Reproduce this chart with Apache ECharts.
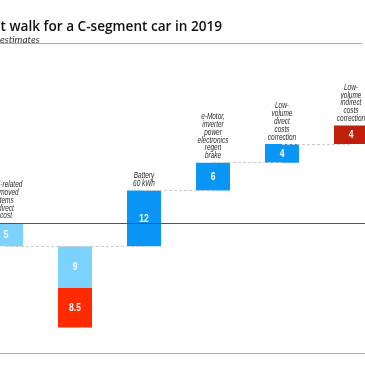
<!DOCTYPE html>
<html><head><meta charset="utf-8">
<script src="https://cdn.jsdelivr.net/npm/echarts@6/dist/echarts.min.js"></script>
<style>html,body{margin:0;padding:0;background:#fff}#c{width:365px;height:365px}</style>
</head><body><div id="c"></div>
<script>
const titleText = 'Cost walk for a C-segment car in 2019';
const subtitleText = 'estimates';
const categories = ['ICE removed items', 'ICE removed detail', 'Battery', 'e-Motor', 'Low-volume direct', 'Low-volume indirect'];
const stepCategory = [0, 1, 1, 2, 3, 4, 5];
const stepStart = [0, -5, -14, -5, 7, 13, 17];
const stepValue = [-5, -9, -8.5, 12, 6, 4, 4];
const stepColor = ['#7BD3FD', '#7BD3FD', '#FF2A00', '#0A96F6', '#0A96F6', '#0A96F6', '#C01F0A'];
const stepNote = ['ICE-related\nremoved\nitems\ndirect\ncost', '', '', 'Battery\n60 kWh',
  'e-Motor,\ninverter\npower\nelectronics\nregen\nbrake', 'Low-\nvolume\ndirect\ncosts\ncorrection',
  'Low-\nvolume\nindirect\ncosts\ncorrection'];
const connectorFrom = [0, 2, 3, 4];
const connectorTo = [2, 3, 4, 5];
const connectorLevel = [-5, 7, 13, 17];

const chart = echarts.init(document.getElementById('c'), null, {renderer: 'canvas'});
const stepData = stepCategory.map((c, i) => [c, stepStart[i], stepStart[i] + stepValue[i], i]);

chart.setOption({
  animation: false,
  grid: {left: 0, right: 0, top: 93, bottom: 12},
  xAxis: {type: 'value', min: -6 / 69, max: 359 / 69, axisLine: {show: true, onZero: false, lineStyle: {color: '#aaa', width: 1}},
    axisTick: {show: false}, axisLabel: {show: false}, splitLine: {show: false}},
  yAxis: {type: 'value', min: -28, max: 28, show: false, splitLine: {show: false}},
  graphic: [
    {type: 'text', x: 222, y: 20, style: {text: titleText, align: 'right', verticalAlign: 'alphabetic',
      font: "600 13.6px 'Open Sans', sans-serif", fill: '#111'}},
    {type: 'text', x: 0, y: 35, style: {text: subtitleText, align: 'left', verticalAlign: 'alphabetic',
      font: "italic 10px Lato, sans-serif", fill: '#333'}},
    {type: 'line', shape: {x1: 0, y1: 43.5, x2: 362, y2: 43.5}, style: {stroke: '#aaa', lineWidth: 1}}
  ],
  series: [
    {
      type: 'line', data: [], z: 1,
      markLine: {
        silent: true, symbol: 'none', label: {show: false},
        data: [
          {yAxis: 0, lineStyle: {type: 'solid', color: '#555', width: 1.2}},
          ...connectorFrom.map((f, i) => [
            {coord: [f, connectorLevel[i]], lineStyle: {type: [3, 2], color: '#ccc', width: 1}},
            {coord: [connectorTo[i], connectorLevel[i]]}
          ])
        ]
      }
    },
    {
      type: 'custom', z: 3, data: stepData,
      renderItem: function (params, api) {
        const cat = api.value(0), s = api.value(1), e = api.value(2), i = api.value(3);
        const p1 = api.coord([cat, s]), p2 = api.coord([cat, e]);
        const bw = api.size([1, 0])[0] * 0.493;
        const top = Math.min(p1[1], p2[1]);
        const h = Math.abs(p1[1] - p2[1]);
        const children = [
          {type: 'rect', shape: {x: p1[0] - bw / 2, y: top, width: bw, height: h}, style: {fill: stepColor[i]}},
          {type: 'text', x: p1[0], y: top + h / 2 + 0.5, scaleX: 0.85,
            style: {x: 0, y: 0, text: String(Math.abs(stepValue[i])), align: 'center',
            verticalAlign: 'middle', fill: '#fff', fontSize: 10, fontWeight: 'bold', fontFamily: "'Liberation Sans', sans-serif"}}
        ];
        if (stepNote[i]) {
          children.push({type: 'text', x: p1[0], y: top - 3, scaleX: 0.76,
            style: {x: 0, y: 0, text: stepNote[i], align: 'center',
            verticalAlign: 'bottom', fill: '#2a2a2a', fontSize: 8.5, fontStyle: 'italic', lineHeight: 7.8,
            fontFamily: "'Liberation Sans', sans-serif"}});
        }
        return {type: 'group', children: children};
      }
    }
  ]
});
</script></body></html>
